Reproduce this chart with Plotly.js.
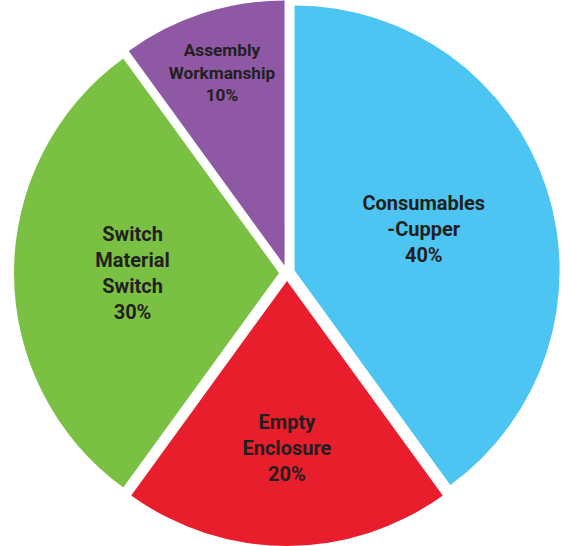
<!DOCTYPE html>
<html>
<head>
<meta charset="utf-8">
<script src="https://cdn.plot.ly/plotly-3.0.1.min.js"></script>
<style>html,body{margin:0;padding:0;background:#fff;}#chart{width:574px;height:546px;}</style>
</head>
<body>
<div id="chart"></div>
<script>
const categories = ["Consumables -Cupper", "Empty Enclosure", "Switch Material Switch", "Assembly Workmanship"];
const labelText = ["Consumables<br>-Cupper", "Empty<br>Enclosure", "Switch<br>Material<br>Switch", "Assembly<br>Workmanship"];
const shares = [40, 20, 30, 10];
const colors = ["#4CC5F2", "#E81E2D", "#7AC143", "#8F58A4"];

const texts = labelText.map((t, i) => "<b>" + t + "<br>" + shares[i] + "%</b>");

Plotly.newPlot("chart", [{
  type: "pie",
  labels: categories,
  values: shares,
  text: texts,
  textinfo: "text",
  textposition: "inside",
  insidetextorientation: "horizontal",
  sort: false,
  direction: "clockwise",
  rotation: 0,
  pull: [0.03, 0.03, 0.03, 0.03],
  marker: {colors: colors, line: {width: 0}},
  textfont: {family: "Roboto, 'Liberation Sans', sans-serif", size: 20, color: "#231F20"},
  hoverinfo: "skip",
  domain: {x: [0, 1], y: [0, 1]}
}], {
  width: 574,
  height: 546,
  margin: {l: 0, r: 0, t: 0, b: 0},
  showlegend: false,
  paper_bgcolor: "#ffffff"
}, {displayModeBar: false, staticPlot: true});
</script>
</body>
</html>
